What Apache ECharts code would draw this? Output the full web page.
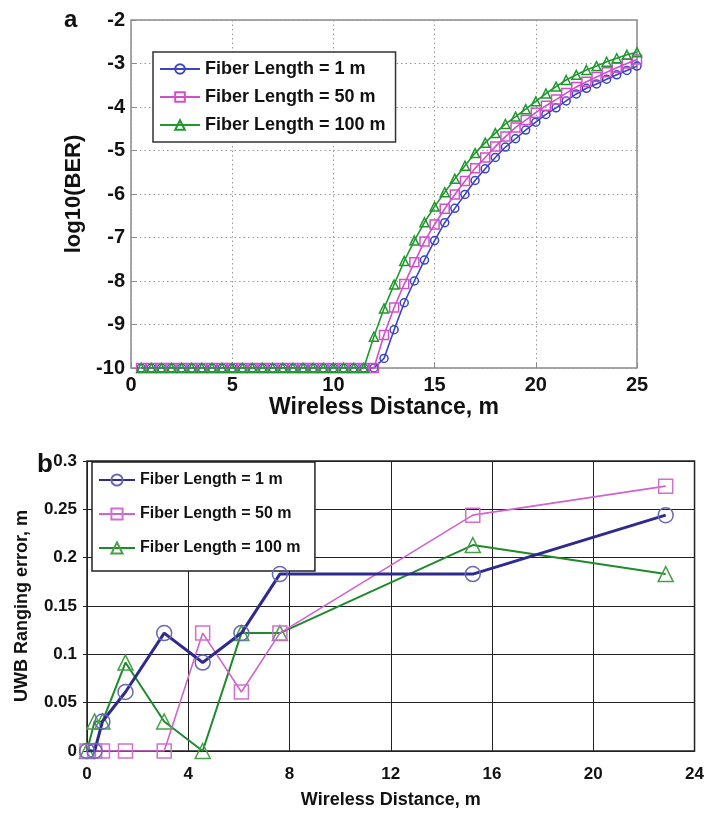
<!DOCTYPE html>
<html>
<head>
<meta charset="utf-8">
<script src="https://cdn.jsdelivr.net/npm/echarts@6/dist/echarts.min.js"></script>
<style>
  html, body { margin: 0; padding: 0; background: #fff; }
  #chart { width: 707px; height: 819px; }
</style>
</head>
<body>
<div id="chart"></div>
<script>
// ---- Panel a: BER vs wireless distance ----
const berDistance = [0.5, 1, 1.5, 2, 2.5, 3, 3.5, 4, 4.5, 5, 5.5, 6, 6.5, 7, 7.5, 8, 8.5, 9, 9.5, 10,
  10.5, 11, 11.5, 12, 12.5, 13, 13.5, 14, 14.5, 15, 15.5, 16, 16.5, 17, 17.5, 18, 18.5, 19, 19.5, 20,
  20.5, 21, 21.5, 22, 22.5, 23, 23.5, 24, 24.5, 25];
const berFiber1 = [-10, -10, -10, -10, -10, -10, -10, -10, -10, -10, -10, -10, -10, -10, -10, -10, -10, -10, -10, -10,
  -10, -10, -10, -10, -9.78, -9.12, -8.50, -8.00, -7.52, -7.07, -6.66, -6.33, -6.01, -5.69, -5.42, -5.16, -4.92, -4.73, -4.53, -4.35,
  -4.17, -4.02, -3.86, -3.70, -3.57, -3.47, -3.36, -3.26, -3.16, -3.06];
const berFiber50 = [-10, -10, -10, -10, -10, -10, -10, -10, -10, -10, -10, -10, -10, -10, -10, -10, -10, -10, -10, -10,
  -10, -10, -10, -10, -9.24, -8.61, -8.07, -7.57, -7.09, -6.70, -6.34, -6.01, -5.70, -5.41, -5.16, -4.91, -4.68, -4.47, -4.30, -4.13,
  -3.97, -3.83, -3.68, -3.54, -3.42, -3.31, -3.20, -3.10, -3.00, -2.91];
const berFiber100 = [-10, -10, -10, -10, -10, -10, -10, -10, -10, -10, -10, -10, -10, -10, -10, -10, -10, -10, -10, -10,
  -10, -10, -10, -9.28, -8.63, -8.08, -7.54, -7.07, -6.65, -6.29, -5.96, -5.65, -5.35, -5.06, -4.82, -4.60, -4.39, -4.22, -4.05, -3.87,
  -3.69, -3.53, -3.38, -3.26, -3.15, -3.06, -2.96, -2.88, -2.80, -2.74];
const berXTicks = { min: 0, max: 25, step: 5 };
const berYTicks = { min: -10, max: -2, step: 1 };

// ---- Panel b: UWB ranging error vs wireless distance ----
const rangeDistance = [0, 0.3, 0.61, 1.52, 3.05, 4.57, 6.1, 7.62, 15.24, 22.86];
const rangeFiber1 = [0, 0, 0.0305, 0.061, 0.122, 0.0915, 0.122, 0.183, 0.183, 0.244];
const rangeFiber50 = [0, 0, 0, 0, 0, 0.122, 0.061, 0.122, 0.244, 0.274];
const rangeFiber100 = [0, 0.0305, 0.0305, 0.0915, 0.0305, 0, 0.122, 0.122, 0.213, 0.183];
const rangeXTicks = { min: 0, max: 24, step: 4 };
const rangeYTicks = { min: 0, max: 0.3, step: 0.05 };

const seriesLabels = ['Fiber Length = 1 m', 'Fiber Length = 50 m', 'Fiber Length = 100 m'];

const pairs = (xs, ys) => xs.map((x, i) => [x, ys[i]]);

const FONT = "'Liberation Sans', Arial, sans-serif";

// panel a styling (MATLAB-like)
const aColors = ['#3b45bf', '#d24fc9', '#1e9a2c'];
const aSymbols = ['circle', 'rect', 'triangle'];
const aSizes = [8, 9, 9];
// panel b styling (spreadsheet-like)
const bLine = ['#2f2a8e', '#d063cc', '#1f8a2a'];
const bMark = ['#6868b4', '#d070d0', '#45a048'];
const bSymbols = ['circle', 'rect', 'triangle'];
const bSizes = [15, 14, 15];
const bWidths = [3, 1.6, 2];

const berData = [berFiber1, berFiber50, berFiber100];
const rangeData = [rangeFiber1, rangeFiber50, rangeFiber100];

const series = [];
berData.forEach((ys, i) => {
  series.push({
    name: seriesLabels[i],
    type: 'line',
    xAxisIndex: 0, yAxisIndex: 0,
    data: pairs(berDistance, ys),
    symbol: aSymbols[i],
    symbolSize: aSizes[i],
    showAllSymbol: true,
    lineStyle: { color: aColors[i], width: 1.6 },
    itemStyle: { color: 'rgba(255,255,255,0)', borderColor: aColors[i], borderWidth: 1.5 },
    emphasis: { disabled: true },
    animation: false,
    z: 3 + i
  });
});
// bottom-panel names carry a trailing space so each legend keeps its own icons
rangeData.forEach((ys, i) => {
  series.push({
    name: seriesLabels[i] + ' ',
    type: 'line',
    xAxisIndex: 1, yAxisIndex: 1,
    data: pairs(rangeDistance, ys),
    symbol: bSymbols[i],
    symbolSize: bSizes[i],
    showAllSymbol: true,
    lineStyle: { color: bLine[i], width: bWidths[i] },
    itemStyle: { color: 'rgba(255,255,255,0)', borderColor: bMark[i], borderWidth: 1.5 },
    emphasis: { disabled: true },
    animation: false,
    z: 3 + (2 - i)
  });
});

const chart = echarts.init(document.getElementById('chart'), null, { renderer: 'canvas' });
chart.setOption({
  backgroundColor: '#fff',
  animation: false,
  grid: [
    { left: 131, top: 20, width: 506, height: 348, show: true, borderColor: '#8a8a8a', borderWidth: 1.5, backgroundColor: '#fff' },
    { left: 87, top: 461, width: 611, height: 290, show: true, borderColor: '#222', borderWidth: 1.5, backgroundColor: '#fff' }
  ],
  xAxis: [
    {
      gridIndex: 0, type: 'value', min: berXTicks.min, max: berXTicks.max, interval: berXTicks.step,
      axisLine: { show: false },
      axisTick: { show: true, inside: true, length: 5, lineStyle: { color: '#8a8a8a' } },
      splitLine: { show: true, lineStyle: { color: '#999', type: [1.5, 3], width: 1 } },
      axisLabel: { color: '#111', fontSize: 20, fontWeight: 'bold', fontFamily: FONT, margin: 7 },
      name: 'Wireless Distance, m', nameLocation: 'middle', nameGap: 26,
      nameTextStyle: { color: '#111', fontSize: 23, fontWeight: 'bold', fontFamily: FONT }
    },
    {
      gridIndex: 1, type: 'value', min: rangeXTicks.min, max: rangeXTicks.max, interval: rangeXTicks.step,
      axisLine: { show: false },
      axisTick: { show: false },
      splitLine: { show: true, lineStyle: { color: '#222', width: 1 } },
      axisLabel: { color: '#111', fontSize: 17, fontWeight: 'bold', fontFamily: FONT, margin: 15 },
      name: 'Wireless Distance, m', nameLocation: 'middle', nameGap: 40,
      nameTextStyle: { color: '#111', fontSize: 18, fontWeight: 'bold', fontFamily: FONT }
    }
  ],
  yAxis: [
    {
      gridIndex: 0, type: 'value', min: berYTicks.min, max: berYTicks.max, interval: berYTicks.step,
      axisLine: { show: false },
      axisTick: { show: true, inside: true, length: 5, lineStyle: { color: '#8a8a8a' } },
      splitLine: { show: true, lineStyle: { color: '#999', type: [1.5, 3], width: 1 } },
      axisLabel: { color: '#111', fontSize: 20, fontWeight: 'bold', fontFamily: FONT, margin: 6 },
      name: 'log10(BER)', nameLocation: 'middle', nameGap: 34, nameRotate: 90,
      nameTextStyle: { color: '#111', fontSize: 22, fontWeight: 'bold', fontFamily: FONT }
    },
    {
      gridIndex: 1, type: 'value', min: rangeYTicks.min, max: rangeYTicks.max, interval: rangeYTicks.step,
      axisLine: { show: false },
      axisTick: { show: true, inside: false, length: 4, lineStyle: { color: '#222' } },
      splitLine: { show: true, lineStyle: { color: '#222', width: 1 } },
      axisLabel: { color: '#111', fontSize: 17, fontWeight: 'bold', fontFamily: FONT, margin: 10 },
      name: 'UWB Ranging error, m', nameLocation: 'middle', nameGap: 56, nameRotate: 90,
      nameTextStyle: { color: '#111', fontSize: 18, fontWeight: 'bold', fontFamily: FONT }
    }
  ],
  legend: [
    {
      data: seriesLabels,
      orient: 'vertical', left: 153, top: 52,
      padding: [7, 10, 7, 6], itemGap: 8,
      itemWidth: 40, itemHeight: 12,
      backgroundColor: '#fff', borderColor: '#333', borderWidth: 1.5, borderRadius: 0,
      selectedMode: false,
      textStyle: { color: '#111', fontSize: 18, fontWeight: 'bold', fontFamily: FONT, lineHeight: 20 }
    },
    {
      data: seriesLabels.map(s => s + ' '),
      orient: 'vertical', left: 92, top: 462,
      padding: [9, 10, 14, 6], itemGap: 16,
      itemWidth: 36, itemHeight: 14,
      backgroundColor: '#fff', borderColor: '#222', borderWidth: 1.5, borderRadius: 0,
      selectedMode: false,
      textStyle: { color: '#111', fontSize: 16, fontWeight: 'bold', fontFamily: FONT, lineHeight: 18 }
    }
  ],
  graphic: [
    { type: 'text', left: 64, top: 8, style: { text: 'a', font: "bold 24px 'Liberation Sans', Arial, sans-serif", fill: '#111' } },
    { type: 'text', left: 37, top: 452, style: { text: 'b', font: "bold 26px 'Liberation Sans', Arial, sans-serif", fill: '#111' } }
  ],
  series: series
});
</script>
</body>
</html>
